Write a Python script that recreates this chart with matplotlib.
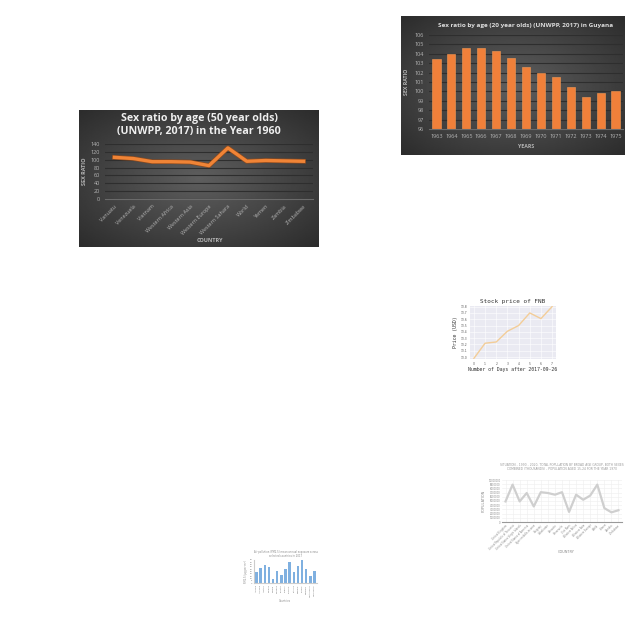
import matplotlib
matplotlib.use("Agg")
import matplotlib.pyplot as plt
from matplotlib.ticker import FuncFormatter
import numpy as np

# chart 1 - sex ratio 50 year olds, 1960
countries_1960 = ["Vanuatu", "Venezuela", "Vietnam", "Western Africa", "Western Asia",
                  "Western Europe", "Western Sahara", "World", "Yemen", "Zambia", "Zimbabwe"]
ratio_1960 = [106, 103, 95, 95, 94, 85, 130, 96, 98, 97, 96]

# chart 2 - sex ratio 20 year olds, Guyana
years_guyana = ["1963", "1964", "1965", "1966", "1967", "1968", "1969",
                "1970", "1971", "1972", "1973", "1974", "1975"]
ratio_guyana = [103.4, 104.0, 104.6, 104.6, 104.3, 103.6, 102.6,
                102.0, 101.5, 100.5, 99.4, 99.8, 100.0]

# chart 3 - stock price
days = [0, 1, 2, 3, 4, 5, 6, 7]
price = [12.98, 13.22, 13.24, 13.41, 13.50, 13.70, 13.61, 13.80]

# chart 4 - population
pop_countries = ["United Kingdom", "United Republic of Tanzania", "United States Virgin Islands",
                 "United States of America", "Upper-middle-income", "Uruguay", "Uzbekistan",
                 "Vanuatu", "Venezuela", "Viet Nam", "Western Africa", "Western Asia",
                 "Western Europe", "World", "Yemen", "Zambia", "Zimbabwe"]
pop_values = [4900000, 8900000, 4900000, 6900000, 3700000, 7100000, 6900000,
              6500000, 7100000, 2400000, 6500000, 5300000, 6300000, 8900000,
              3300000, 2300000, 2800000]

# chart 5 - blue bars
bar_countries = ["Albania", "Armenia", "Austria", "Belarus", "Bosnia", "Bulgaria",
                 "Croatia", "Cyprus", "Czechia", "Estonia", "Georgia", "Greece",
                 "Hungary", "Montenegro", "Macedonia"]
bar_values = [23, 32, 40, 34, 9, 26, 18, 31, 45, 25, 38, 50, 31, 16, 27]


def px(x0, y0, x1, y1):
    return [x0 / 640, 1 - y1 / 640, (x1 - x0) / 640, (y1 - y0) / 640]


def dark_panel(fig, box):
    # radial grey gradient, lighter in the middle
    bg = fig.add_axes(px(*box))
    yy, xx = np.mgrid[-1:1:200j, -1:1:200j]
    r = np.sqrt(xx**2 + yy**2)
    shade = np.clip(0.37 - 0.14 * r, 0.15, 1)
    bg.imshow(shade, cmap="gray", vmin=0, vmax=1, extent=[0, 1, 0, 1], aspect="auto")
    bg.axis("off")


def dark_axes(ax):
    ax.set_facecolor("none")
    for s in ax.spines.values():
        s.set_visible(False)
    ax.spines["bottom"].set_visible(True)
    ax.spines["bottom"].set_color("#6a6a6a")
    ax.tick_params(colors="#b5b5b5", length=0, labelsize=4)
    ax.grid(axis="y", color="#2e2e2e", linewidth=0.8)
    ax.set_axisbelow(True)


fig = plt.figure(figsize=(6.4, 6.4), dpi=100)
fig.patch.set_facecolor("white")
font = "Open Sans"

# ---- chart 1
dark_panel(fig, (79, 110, 319, 247))
ax1 = fig.add_axes(px(105, 144, 313, 199))
dark_axes(ax1)
x1 = np.arange(len(countries_1960))
ax1.plot(x1, ratio_1960, color="#8a4a20", linewidth=3.4, solid_joinstyle="round")
ax1.plot(x1, ratio_1960, color="#f08436", linewidth=2.4, solid_joinstyle="round")
ax1.set_ylim(0, 140)
ax1.set_yticks(range(0, 141, 20))
ax1.set_xlim(-0.5, len(countries_1960) - 0.5)
ax1.set_xticks(x1)
ax1.set_xticklabels(countries_1960, rotation=45, ha="right", rotation_mode="anchor",
                    family=font, fontsize=3.9)
for t in ax1.get_yticklabels():
    t.set_family(font)
ax1.set_ylabel("SEX RATIO", color="#b5b5b5", fontsize=4, family=font, weight="bold", labelpad=3)
fig.text(210 / 640, 1 - 241 / 640, "COUNTRY", ha="center", va="center",
         color="#b5b5b5", fontsize=4, family=font, weight="bold")
fig.text(199 / 640, 1 - 125 / 640, "Sex ratio by age (50 year olds)\n(UNWPP, 2017) in the Year 1960",
         ha="center", va="center", color="#eeeeee", fontsize=7.7, family=font, weight="bold",
         linespacing=1.3)

# ---- chart 2
dark_panel(fig, (401, 16, 625, 155))
ax2 = fig.add_axes(px(429, 35, 623, 129))
dark_axes(ax2)
x2 = np.arange(len(years_guyana))
ax2.bar(x2, ratio_guyana, width=0.55, color="#f0803a", edgecolor="#f59a55", linewidth=0.4)
ax2.set_ylim(96, 106)
ax2.set_yticks(range(96, 107))
ax2.set_xlim(-0.5, len(years_guyana) - 0.5)
ax2.set_xticks(x2)
ax2.set_xticklabels(years_guyana, family=font, fontsize=4)
for t in ax2.get_yticklabels():
    t.set_family(font)
ax2.set_ylabel("SEX RATIO", color="#b5b5b5", fontsize=3.8, family=font, weight="bold", labelpad=4)
ax2.set_xlabel("YEARS", color="#b5b5b5", fontsize=3.8, family=font, weight="bold", labelpad=4)
ax2.set_title("Sex ratio by age (20 year olds) (UNWPP, 2017) in Guyana", color="#dddddd",
              fontsize=4.6, family=font, weight="bold", pad=6)

# ---- chart 3
ax3 = fig.add_axes(px(470, 306, 556, 359))
ax3.set_facecolor("#eaeaf2")
for s in ax3.spines.values():
    s.set_visible(False)
ax3.grid(color="white", linewidth=0.4)
ax3.set_axisbelow(True)
ax3.plot(days, price, color="#f3cd98", linewidth=1.0)
ax3.set_ylim(12.97, 13.81)
ax3.set_yticks(np.round(np.arange(13.0, 13.81, 0.1), 1))
ax3.set_xticks(days)
ax3.tick_params(labelsize=2.2, length=0, pad=2, colors="#555555")
ax3.set_title("Stock price of FNB", fontsize=4.3, family="DejaVu Sans Mono", pad=2, color="#333333")
ax3.set_xlabel("Number of Days after 2017-09-26", fontsize=3.5, family="DejaVu Sans Mono",
               labelpad=1, color="#333333")
ax3.set_ylabel("Price (USD)", fontsize=3.5, family="DejaVu Sans Mono", labelpad=2, color="#333333")

# ---- chart 4
ax4 = fig.add_axes(px(502, 480, 622, 522))
x4 = np.arange(len(pop_countries))
ax4.plot(x4, pop_values, color="#cfcfcf", linewidth=1.6)
ax4.set_ylim(0, 10000000)
ax4.set_yticks(range(0, 10000001, 1000000))
ax4.yaxis.set_major_formatter(FuncFormatter(lambda v, p: "%d" % v))
ax4.set_xlim(-0.5, len(pop_countries) - 0.5)
ax4.set_xticks(x4)
ax4.set_xticklabels(pop_countries, rotation=45, ha="right", rotation_mode="anchor")
ax4.tick_params(labelsize=1.8, length=0, pad=1, colors="#888888")
ax4.grid(color="#eeeeee", linewidth=0.4)
ax4.set_axisbelow(True)
for s in ["top", "right", "left"]:
    ax4.spines[s].set_visible(False)
ax4.spines["bottom"].set_color("#999999")
ax4.set_ylabel("POPULATION", fontsize=2.5, color="#888888", labelpad=2)
fig.text(566 / 640, 1 - 552 / 640, "COUNTRY", ha="center", va="center",
         fontsize=2.5, color="#888888")
ax4.set_title("SITUATION - 1990 - 2020, TOTAL POPULATION BY BROAD AGE GROUP, BOTH SEXES\n"
              "COMBINED (THOUSANDS) - POPULATION AGED 15-24 FOR THE YEAR 1970",
              fontsize=2.2, color="#999999", pad=7)

# ---- chart 5
ax5 = fig.add_axes(px(254, 560, 317, 583))
x5 = np.arange(len(bar_countries))
ax5.bar(x5, bar_values, width=0.6, color="#7fb0e0")
ax5.set_ylim(0, 50)
ax5.set_yticks(range(0, 51, 5))
ax5.set_xlim(-0.6, len(bar_countries) - 0.4)
ax5.set_xticks(x5)
ax5.set_xticklabels(bar_countries, rotation=90)
ax5.tick_params(labelsize=1.5, length=0, pad=1, colors="#777777")
for s in ["top", "right"]:
    ax5.spines[s].set_visible(False)
ax5.spines["left"].set_color("#cccccc")
ax5.spines["bottom"].set_color("#cccccc")
ax5.set_ylabel("PM2.5 (µg per m³)", fontsize=1.8, color="#888888", labelpad=1)
fig.text(285 / 640, 1 - 601 / 640, "Countries", ha="center", va="center",
         fontsize=1.8, color="#888888")
ax5.set_title("Air pollution (PM2.5) mean annual exposure across\nselected countries in 2017",
              fontsize=1.8, color="#888888", pad=2)

fig.savefig("out.png", dpi=100, facecolor="white")
